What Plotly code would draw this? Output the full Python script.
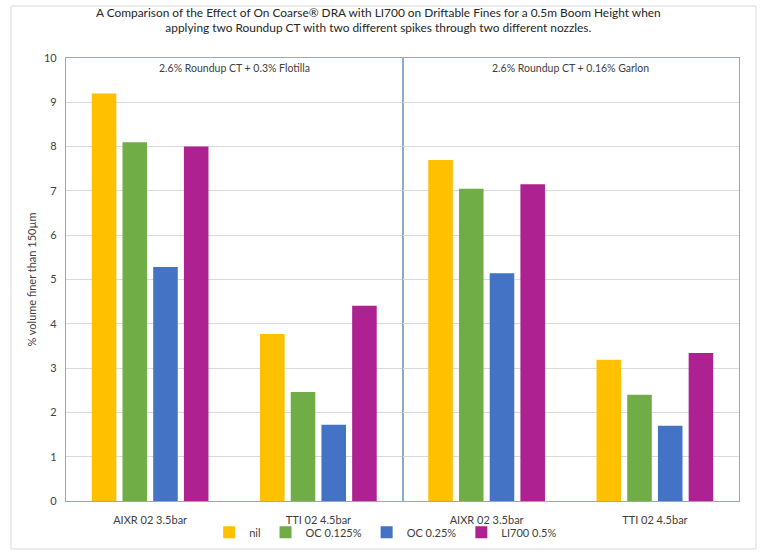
import plotly.graph_objects as go
from plotly.subplots import make_subplots

categories = ["AIXR 02 3.5bar", "TTI 02 4.5bar"]
panels = ["2.6% Roundup CT + 0.3% Flotilla", "2.6% Roundup CT + 0.16% Garlon"]
series = ["nil", "OC 0.125%", "OC 0.25%", "LI700 0.5%"]
colors = ["#FFC000", "#70AD47", "#4472C4", "#AE2190"]

nil_vals = [[9.2, 3.77], [7.7, 3.19]]
oc125_vals = [[8.1, 2.46], [7.05, 2.4]]
oc25_vals = [[5.28, 1.72], [5.14, 1.7]]
li700_vals = [[8.0, 4.41], [7.15, 3.34]]
all_vals = [nil_vals, oc125_vals, oc25_vals, li700_vals]

title_text = ("A Comparison of the Effect of On Coarse® DRA with LI700 on Driftable Fines for a 0.5m Boom Height when<br>"
              "applying two Roundup CT with two different spikes through two different nozzles.")
y_title = "% volume finer than 150µm"
y_ticks = list(range(0, 11))

FONT = "Lato, 'Open Sans', sans-serif"
TXT = "#404040"
BORDER = "#8EA9CF"
GRID = "#D9D9D9"

fig = make_subplots(rows=1, cols=2, shared_yaxes=True, horizontal_spacing=0)

for p in range(2):
    for s, name in enumerate(series):
        fig.add_trace(go.Bar(
            x=categories, y=all_vals[s][p], name=name,
            marker=dict(color=colors[s], line=dict(width=0)),
            showlegend=(p == 0), legendgroup=name,
        ), row=1, col=p + 1)

W, H = 763, 553
L, R, T, B = 66, 24, 58, 52
pw = W - L - R
ph = H - T - B

fig.update_layout(
    width=W, height=H,
    margin=dict(l=L, r=R, t=T, b=B, autoexpand=False),
    paper_bgcolor="white", plot_bgcolor="white",
    barmode="group", bargap=0.27, bargroupgap=0.2,
    font=dict(family=FONT, size=11, color=TXT),
    showlegend=True,
    legend=dict(orientation="h", x=0.475, xanchor="center", y=-0.038, yanchor="top",
                font=dict(size=11, color=TXT), itemwidth=30, tracegroupgap=0,
                bgcolor="rgba(0,0,0,0)"),
)

for i in (1, 2):
    fig.update_xaxes(row=1, col=i, showline=True, mirror=True, linecolor=BORDER, linewidth=1.3,
                     ticks="", tickfont=dict(size=11, color=TXT), showgrid=False, zeroline=False,
                     automargin=False, ticklabelstandoff=9)
fig.update_yaxes(range=[0, 10], tickvals=y_ticks, showgrid=True, gridcolor=GRID, gridwidth=1,
                 showline=True, mirror=True, linecolor=BORDER, linewidth=1.3, zeroline=False,
                 ticks="", tickfont=dict(size=11, color=TXT), automargin=False)
fig.update_yaxes(row=1, col=1, ticklabelstandoff=6,
                 title=dict(text=y_title, font=dict(size=11, color=TXT), standoff=5))
fig.update_yaxes(row=1, col=2, showticklabels=False)

# title
fig.add_annotation(text=title_text, xref="paper", yref="paper", x=0.465, y=1.085,
                   xanchor="center", yanchor="middle", showarrow=False,
                   font=dict(size=11.9, color="#262626", family=FONT), align="center")

# panel labels
for p, label in enumerate(panels):
    fig.add_annotation(text=label, xref="paper", yref="paper", x=0.25 + 0.5 * p,
                       y=0.977, xanchor="center", yanchor="middle", showarrow=False,
                       font=dict(size=10.5, color=TXT, family=FONT))

# outer frame
fig.add_shape(type="rect", xref="paper", yref="paper",
              x0=(11 - L) / pw, x1=(756 - L) / pw,
              y0=(H - B - 549) / ph, y1=(H - B - 6) / ph,
              line=dict(color="#D9D9D9", width=1), fillcolor="rgba(0,0,0,0)", layer="below")

fig.write_html("out.html", config={"displayModeBar": False},
               post_script="document.body.style.margin='0';document.body.style.overflow='hidden';")
